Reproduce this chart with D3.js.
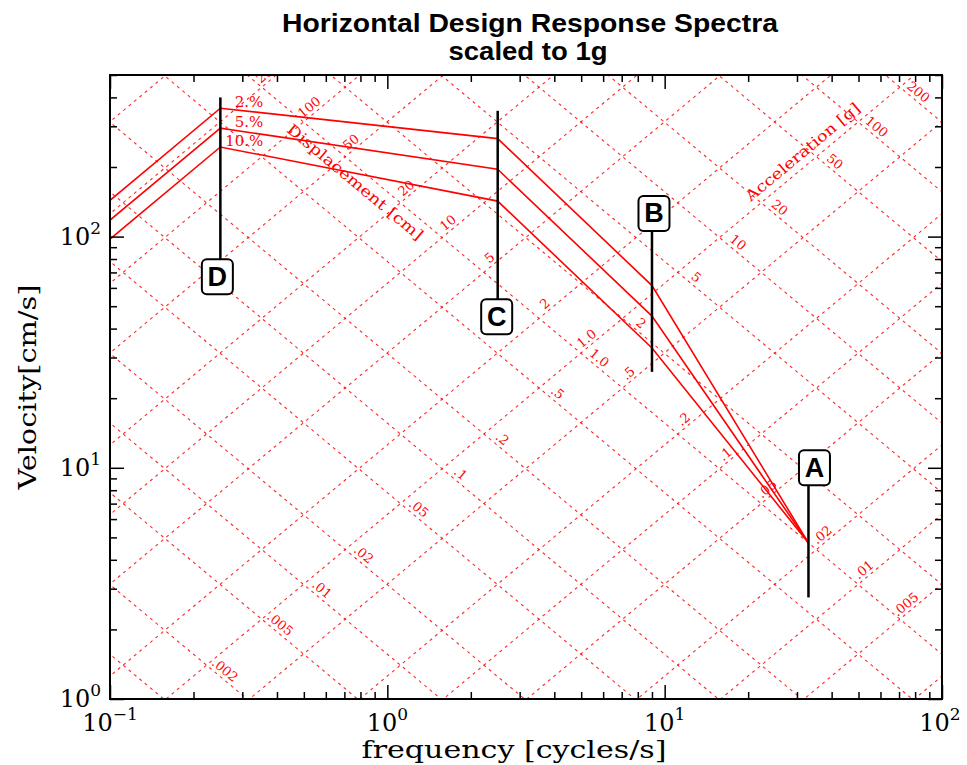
<!DOCTYPE html>
<html><head><meta charset="utf-8">
<script src="https://cdn.jsdelivr.net/npm/d3@7"></script>
<style>body{margin:0;background:#fff}</style>
</head><body><svg id="c" width="967" height="765"></svg>
<script>
// ---------------- data ----------------
const frequencies = [0.1, 0.25, 2.5, 9, 33];            // cycles/s
const dampingLabels = ["2.%", "5.%", "10.%"];
const velocity2  = [143.6, 359.1, 265.4, 61.4, 4.73];   // cm/s
const velocity5  = [117.8, 294.5, 195.5, 45.3, 4.73];
const velocity10 = [97.6, 244.1, 142.4, 33.0, 4.73];
const displacementGrid = [1000,500,200,100,50,20,10,5,2,1,0.5,0.2,0.1,0.05,0.02,0.01,0.005,0.002,0.001]; // cm
const accelerationGrid = [0.0005,0.001,0.002,0.005,0.01,0.02,0.05,0.1,0.2,0.5,1,2,5,10,20,50,100,200,500]; // g
const xTickExponents = [-1, 0, 1, 2];
const yTickExponents = [0, 1, 2];
const xMinorTicks = [0.2,0.3,0.4,0.5,0.6,0.7,0.8,0.9,2,3,4,5,6,7,8,9,20,30,40,50,60,70,80,90];
const yMinorTicks = [2,3,4,5,6,7,8,9,20,30,40,50,60,70,80,90,200,300,400,500];
const controlLabels = ["D", "C", "B", "A"];
const controlFreqs = [0.25, 2.5, 9, 33];
const controlLineFrom = [400, 350, 126, 10];   // cm/s
const controlLineTo = [67, 45, 26, 2.75];
const controlBoxAt = [67, 45, 126, 10];
const titleLines = ["Horizontal Design Response Spectra", "scaled to 1g"];
const G = 981; // cm/s^2

// ---------------- setup ----------------
const svg = d3.select("#c");
const L = 110, R = 942, T = 75, B = 699;
const x = d3.scaleLog().domain([0.1, 100]).range([L, R]);
const y = d3.scaleLog().domain([1, 500]).range([B, T]);
const RED = "#ff0000";
const SERIF = "'DejaVu Serif', 'Liberation Serif', serif";
const SANS = "'Liberation Sans', Arial, sans-serif";

svg.append("defs").append("clipPath").attr("id", "plotclip")
  .append("rect").attr("x", L).attr("y", T).attr("width", R - L).attr("height", B - T);
const plot = svg.append("g").attr("clip-path", "url(#plotclip)");

const fmt = v => v === 1 ? "1.0" : (v >= 1 ? String(v) : String(v).replace(/^0/, ""));
const angD = Math.atan2(y(10) - y(1), x(10) - x(1)) * 180 / Math.PI;     // displacement direction
const angA = -angD;                                                    // acceleration direction
const line = d3.line().x(d => x(d[0])).y(d => y(d[1]));
const inside = (px, py) => px > L - 2 && px < R - 4 && py > T - 8 && py < B + 2;

// ---------------- tripartite grid ----------------
const fLo = 0.05, fHi = 200;
displacementGrid.forEach(D => {
  plot.append("path").attr("d", line([[fLo, 2 * Math.PI * fLo * D], [fHi, 2 * Math.PI * fHi * D]]))
    .attr("fill", "none").attr("stroke", RED).attr("stroke-width", 1.1)
    .attr("stroke-dasharray", "3,4").attr("opacity", 0.85);
});
accelerationGrid.forEach(A => {
  plot.append("path").attr("d", line([[fLo, G * A / (2 * Math.PI * fLo)], [fHi, G * A / (2 * Math.PI * fHi)]]))
    .attr("fill", "none").attr("stroke", RED).attr("stroke-width", 1.1)
    .attr("stroke-dasharray", "3,4").attr("opacity", 0.85);
});

// displacement labels placed along an acceleration line
const A_lab = 1.1;
displacementGrid.forEach(D => {
  const f = Math.sqrt(G * A_lab / (4 * Math.PI * Math.PI * D));
  const v = 2 * Math.PI * f * D;
  const px = x(f), py = y(v) - 10;
  if (!inside(px, py)) return;
  plot.append("text").attr("x", px).attr("y", py)
    .attr("transform", `rotate(${angD},${px},${py})`)
    .attr("text-anchor", "middle").attr("dominant-baseline", "central")
    .attr("font-family", SERIF).attr("font-size", 13).attr("fill", RED)
    .text(fmt(D));
});
// acceleration labels placed along a displacement line
const D_lab = 0.76;
accelerationGrid.forEach(A => {
  const f = Math.sqrt(G * A / (4 * Math.PI * Math.PI * D_lab));
  const v = 2 * Math.PI * f * D_lab;
  const px = x(f) + 2, py = y(v) - 9;
  if (!inside(px, py)) return;
  plot.append("text").attr("x", px).attr("y", py)
    .attr("transform", `rotate(${angA},${px},${py})`)
    .attr("text-anchor", "middle").attr("dominant-baseline", "central")
    .attr("font-family", SERIF).attr("font-size", 13).attr("fill", RED)
    .text(fmt(A));
});
// grid titles
[["Displacement [cm]", 0.765, 172, angA, 172], ["Acceleration [g]", 31.5, 232, angD, 144]].forEach(([t, f, v, a, len]) => {
  const px = x(f), py = y(v);
  plot.append("text").attr("x", px).attr("y", py)
    .attr("transform", `rotate(${a},${px},${py})`)
    .attr("text-anchor", "middle").attr("dominant-baseline", "central")
    .attr("font-family", SERIF).attr("font-size", 15).attr("fill", RED)
    .attr("textLength", len).attr("lengthAdjust", "spacingAndGlyphs")
    .text(t);
});

// ---------------- spectra ----------------
[velocity2, velocity5, velocity10].forEach((vals, i) => {
  const pts = frequencies.map((f, j) => [f, vals[j]]);
  plot.append("path").attr("d", line(pts)).attr("fill", "none")
    .attr("stroke", RED).attr("stroke-width", 1.6);
  const px = x(frequencies[1]) + 43, py = y(vals[1]) - 1;
  svg.append("text").attr("x", px).attr("y", py).attr("text-anchor", "end")
    .attr("font-family", SERIF).attr("font-size", 15).attr("fill", RED)
    .text(dampingLabels[i]);
});

// ---------------- axes ----------------
const majorX = xTickExponents.map(e => Math.pow(10, e));
const majorY = yTickExponents.map(e => Math.pow(10, e));
function ax(gen, tr, vals, size) {
  const g = svg.append("g").attr("transform", tr)
    .call(gen.tickValues(vals).tickSizeInner(-size).tickSizeOuter(0).tickFormat(""));
  g.select(".domain").remove();
  g.selectAll("line").attr("stroke", "#000").attr("stroke-width", 1.5);
}
ax(d3.axisBottom(x), `translate(0,${B})`, xMinorTicks, 7);
ax(d3.axisBottom(x), `translate(0,${B})`, majorX, 14);
ax(d3.axisTop(x), `translate(0,${T})`, xMinorTicks, 7);
ax(d3.axisTop(x), `translate(0,${T})`, majorX, 14);
ax(d3.axisLeft(y), `translate(${L},0)`, yMinorTicks, 7);
ax(d3.axisLeft(y), `translate(${L},0)`, majorY, 14);
ax(d3.axisRight(y), `translate(${R},0)`, yMinorTicks, 7);
ax(d3.axisRight(y), `translate(${R},0)`, majorY, 14);
svg.append("rect").attr("x", L).attr("y", T).attr("width", R - L).attr("height", B - T)
  .attr("fill", "none").attr("stroke", "#000").attr("stroke-width", 2);

function powLabel(px, py, e, anchor) {
  const t = svg.append("text").attr("x", px).attr("y", py).attr("text-anchor", anchor)
    .attr("font-family", SERIF).attr("font-size", 24).attr("fill", "#000");
  t.append("tspan").text("10");
  t.append("tspan").attr("dy", -11).attr("font-size", 17).text(e < 0 ? "\u2212" + (-e) : String(e));
}
xTickExponents.forEach(e => powLabel(x(Math.pow(10, e)) - (e === 2 ? 2 : 0), 731, e, "middle"));
yTickExponents.forEach(e => powLabel(101, y(Math.pow(10, e)) + 8, e, "end"));

svg.append("text").attr("transform", `translate(36,${(T + B) / 2}) rotate(-90)`)
  .attr("text-anchor", "middle").attr("font-family", SERIF).attr("font-size", 25)
  .attr("textLength", 205).attr("lengthAdjust", "spacingAndGlyphs")
  .text("Velocity[cm/s]");
svg.append("text").attr("x", 514).attr("y", 758)
  .attr("text-anchor", "middle").attr("font-family", SERIF).attr("font-size", 25)
  .attr("textLength", 305).attr("lengthAdjust", "spacingAndGlyphs")
  .text("frequency [cycles/s]");

// ---------------- title ----------------
svg.append("text").attr("x", 530).attr("y", 32).attr("text-anchor", "middle")
  .attr("font-family", SANS).attr("font-weight", "bold").attr("font-size", 26)
  .attr("textLength", 496).attr("lengthAdjust", "spacingAndGlyphs").text(titleLines[0]);
svg.append("text").attr("x", 528).attr("y", 60).attr("text-anchor", "middle")
  .attr("font-family", SANS).attr("font-weight", "bold").attr("font-size", 26)
  .attr("textLength", 159).attr("lengthAdjust", "spacingAndGlyphs").text(titleLines[1]);

// ---------------- control point markers ----------------
const boxDx = [-3, -1, 2, 6];
const bw = 31, bh = 35;
controlLabels.forEach((lab, i) => {
  const cx = x(controlFreqs[i]);
  svg.append("line").attr("x1", cx).attr("x2", cx)
    .attr("y1", y(controlLineFrom[i])).attr("y2", y(controlLineTo[i]))
    .attr("stroke", "#000").attr("stroke-width", 2.5);
  const bx = cx + boxDx[i], by = y(controlBoxAt[i]);
  svg.append("rect").attr("x", bx - bw / 2).attr("y", by - bh / 2).attr("width", bw).attr("height", bh)
    .attr("rx", 5).attr("fill", "#fff").attr("stroke", "#000").attr("stroke-width", 2);
  svg.append("text").attr("x", bx).attr("y", by + 9).attr("text-anchor", "middle")
    .attr("font-family", SANS).attr("font-weight", "bold").attr("font-size", 27)
    .text(lab);
});
</script>
</body></html>
